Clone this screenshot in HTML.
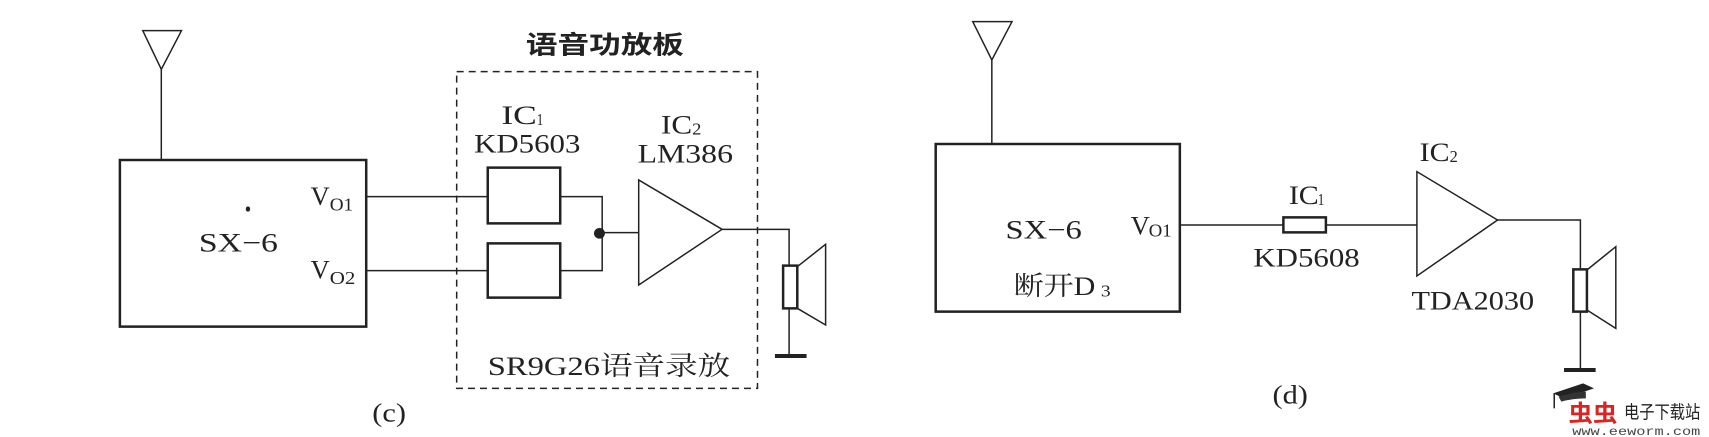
<!DOCTYPE html>
<html><head><meta charset="utf-8"><style>
html,body{margin:0;padding:0;background:#fff}
svg{display:block}
text{font-family:"Liberation Serif","Noto Serif CJK SC",serif;fill:#222}
.c{font-family:"Liberation Serif","Noto Sans CJK SC",sans-serif}
</style></head><body>
<svg width="1709" height="437" viewBox="0 0 3136 1311" preserveAspectRatio="none" xmlns="http://www.w3.org/2000/svg">
<g fill="none" stroke="#222" stroke-width="1.5" vector-effect="non-scaling-stroke">
<!-- LEFT -->
<polygon points="262,92 333,92 296,208" vector-effect="non-scaling-stroke"/>
<line x1="296" y1="208" x2="296" y2="480" vector-effect="non-scaling-stroke"/>
<rect x="220" y="480" width="452" height="500" stroke-width="2.5" vector-effect="non-scaling-stroke"/>
<line x1="672" y1="590" x2="895" y2="590" vector-effect="non-scaling-stroke"/>
<line x1="672" y1="812" x2="895" y2="812" vector-effect="non-scaling-stroke"/>
<rect x="895" y="503" width="133" height="167" stroke-width="2.5" vector-effect="non-scaling-stroke"/>
<rect x="895" y="730" width="133" height="163" stroke-width="2.5" vector-effect="non-scaling-stroke"/>
<polyline points="1028,590 1105,590 1105,812 1028,812" vector-effect="non-scaling-stroke"/>
<line x1="1105" y1="698" x2="1172" y2="698" vector-effect="non-scaling-stroke"/>
<polygon points="1172,540 1172,855 1325,688" vector-effect="non-scaling-stroke"/>
<polyline points="1325,688 1448,688 1448,797" vector-effect="non-scaling-stroke"/>
<rect x="1437" y="797" width="26" height="128" stroke-width="2.5" vector-effect="non-scaling-stroke"/>
<polyline points="1463,800 1515,733 1515,975 1463,925" vector-effect="non-scaling-stroke"/>
<line x1="1448" y1="925" x2="1448" y2="1068" vector-effect="non-scaling-stroke"/>
<line x1="1422" y1="1068" x2="1480" y2="1068" stroke-width="4" vector-effect="non-scaling-stroke"/>
<rect x="838" y="215" width="552" height="950" stroke-dasharray="7,5" vector-effect="non-scaling-stroke"/>
<!-- RIGHT -->
<g transform="translate(1560,0)">
<polygon points="225,65 297,65 260,180" vector-effect="non-scaling-stroke"/>
<line x1="260" y1="180" x2="260" y2="432" vector-effect="non-scaling-stroke"/>
<rect x="157" y="432" width="448" height="503" stroke-width="2.5" vector-effect="non-scaling-stroke"/>
<line x1="605" y1="675" x2="795" y2="675" vector-effect="non-scaling-stroke"/>
<rect x="795" y="652" width="78" height="45" stroke-width="2.5" vector-effect="non-scaling-stroke"/>
<line x1="873" y1="675" x2="1040" y2="675" vector-effect="non-scaling-stroke"/>
<polygon points="1040,515 1040,828 1188,660" vector-effect="non-scaling-stroke"/>
<polyline points="1188,660 1340,660 1340,808" vector-effect="non-scaling-stroke"/>
<rect x="1327" y="808" width="25" height="127" stroke-width="2.5" vector-effect="non-scaling-stroke"/>
<polyline points="1352,810 1405,740 1405,985 1352,930" vector-effect="non-scaling-stroke"/>
<line x1="1340" y1="935" x2="1340" y2="1110" vector-effect="non-scaling-stroke"/>
<line x1="1310" y1="1110" x2="1368" y2="1110" stroke-width="4" vector-effect="non-scaling-stroke"/>
</g>
</g>
<ellipse cx="1100" cy="700" rx="10" ry="16" fill="#222"/>
<ellipse cx="455" cy="627" rx="4" ry="8" fill="#222"/>
<!-- LEFT TEXT -->
<text class="c" x="965" y="160" font-size="75" textLength="290" lengthAdjust="spacingAndGlyphs" font-weight="bold">语音功放板</text>
<text x="920" y="372" font-size="80" textLength="65" lengthAdjust="spacingAndGlyphs">IC</text>
<text x="985" y="375" font-size="50" textLength="12" lengthAdjust="spacingAndGlyphs">1</text>
<text x="870" y="458" font-size="80" textLength="195" lengthAdjust="spacingAndGlyphs">KD5603</text>
<text x="1213" y="400" font-size="80" textLength="57" lengthAdjust="spacingAndGlyphs">IC</text>
<text x="1270" y="403" font-size="50" textLength="17" lengthAdjust="spacingAndGlyphs">2</text>
<text x="1170" y="488" font-size="80" textLength="175" lengthAdjust="spacingAndGlyphs">LM386</text>
<text x="570" y="615" font-size="80" textLength="35" lengthAdjust="spacingAndGlyphs">V</text>
<text x="605" y="632" font-size="55" textLength="43" lengthAdjust="spacingAndGlyphs">O1</text>
<text x="570" y="835" font-size="80" textLength="35" lengthAdjust="spacingAndGlyphs">V</text>
<text x="605" y="852" font-size="55" textLength="47" lengthAdjust="spacingAndGlyphs">O2</text>
<text x="365" y="755" font-size="80" textLength="145" lengthAdjust="spacingAndGlyphs">SX−6</text>
<text x="895" y="1125" font-size="80" textLength="445" lengthAdjust="spacingAndGlyphs">SR9G26语音录放</text>
<text x="683" y="1265" font-size="80" textLength="62" lengthAdjust="spacingAndGlyphs">(c)</text>
<!-- RIGHT TEXT -->
<g transform="translate(1560,0)">
<text x="1045" y="483" font-size="80" textLength="55" lengthAdjust="spacingAndGlyphs">IC</text>
<text x="1100" y="486" font-size="50" textLength="15" lengthAdjust="spacingAndGlyphs">2</text>
<text x="805" y="612" font-size="80" textLength="55" lengthAdjust="spacingAndGlyphs">IC</text>
<text x="858" y="615" font-size="50" textLength="12" lengthAdjust="spacingAndGlyphs">1</text>
<text x="740" y="800" font-size="80" textLength="195" lengthAdjust="spacingAndGlyphs">KD5608</text>
<text x="1030" y="928" font-size="80" textLength="225" lengthAdjust="spacingAndGlyphs">TDA2030</text>
<text x="285" y="715" font-size="80" textLength="140" lengthAdjust="spacingAndGlyphs">SX−6</text>
<text x="515" y="703" font-size="80" textLength="35" lengthAdjust="spacingAndGlyphs">V</text>
<text x="548" y="710" font-size="55" textLength="42" lengthAdjust="spacingAndGlyphs">O1</text>
<text x="300" y="885" font-size="80" textLength="150" lengthAdjust="spacingAndGlyphs">断开D</text>
<text x="460" y="890" font-size="50" textLength="18" lengthAdjust="spacingAndGlyphs">3</text>
<text x="775" y="1210" font-size="80" textLength="65" lengthAdjust="spacingAndGlyphs">(d)</text>
<!-- watermark -->
<polygon points="1290,1180 1345,1150 1365,1165 1310,1195" fill="#222"/>
<path d="M1300,1190 Q1330,1175 1350,1175 L1350,1195 Q1325,1195 1305,1205Z" fill="#333"/>
<line x1="1292" y1="1180" x2="1292" y2="1225" stroke="#222" stroke-width="1.5" vector-effect="non-scaling-stroke"/>
<text class="c" x="1318" y="1265" font-size="70" textLength="90" lengthAdjust="spacingAndGlyphs" style="fill:#d22;font-weight:bold">虫虫</text>
<text class="c" x="1420" y="1255" font-size="55" textLength="140" lengthAdjust="spacingAndGlyphs" style="fill:#222">电子下载站</text>
<text x="1325" y="1305" font-size="35" textLength="235" lengthAdjust="spacingAndGlyphs" style="font-family:'Liberation Mono',monospace;fill:#444">www.eeworm.com</text>
</g>
</svg>
</body></html>
